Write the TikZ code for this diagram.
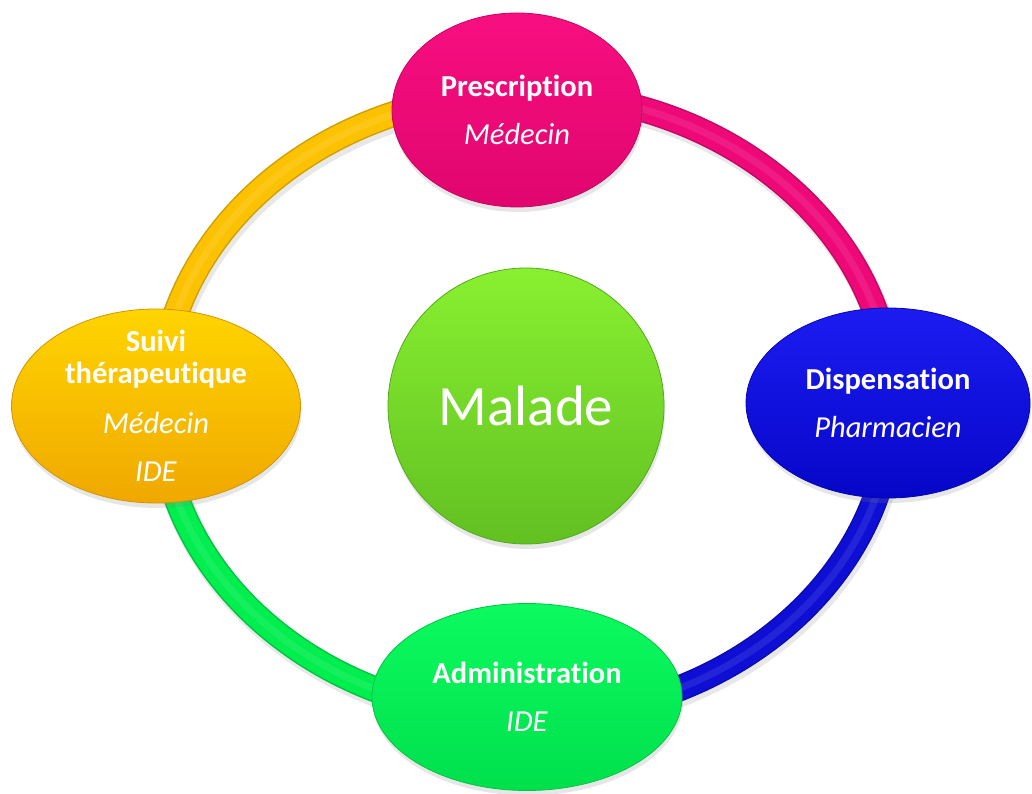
\documentclass[tikz,border=0pt]{standalone}
\usepackage{fontspec}
\setmainfont{Carlito}[Ligatures=NoCommon]
\usepackage{tikz}
\usetikzlibrary{shapes.geometric, shadows}

\definecolor{presctop}{RGB}{248,14,128}
\definecolor{prescbot}{RGB}{224,6,110}
\definecolor{disptop}{RGB}{28,28,242}
\definecolor{dispbot}{RGB}{6,6,200}
\definecolor{admintop}{RGB}{12,250,96}
\definecolor{adminbot}{RGB}{0,224,76}
\definecolor{suivitop}{RGB}{255,212,0}
\definecolor{suivibot}{RGB}{240,168,0}
\definecolor{maltop}{RGB}{136,240,48}
\definecolor{malbot}{RGB}{98,192,34}
\definecolor{pinkring}{RGB}{238,8,120}
\definecolor{bluering}{RGB}{14,14,212}
\definecolor{greenring}{RGB}{0,238,78}
\definecolor{orangering}{RGB}{252,194,0}

\begin{document}
\begin{tikzpicture}[x=1pt, y=1pt,
  bubble/.style 2 args={ellipse, inner sep=0pt, top color=#1, bottom color=#2, draw=#2!88!black, line width=0.8pt,
    drop shadow={opacity=0.2, shadow xshift=1pt, shadow yshift=-5pt}},
  txt/.style={text=white, align=center, font=\fontsize{30.5}{32}\selectfont},
  tube/.style={line width=23pt, draw=#1,
    preaction={draw=black, opacity=0.09, line width=28pt, transform canvas={shift={(2pt,-4pt)}}},
    preaction={draw=#1!82!black, line width=26pt},
    postaction={draw=#1!60!white, opacity=0.22, line width=7pt}}]
  \useasboundingbox (0,0) rectangle (1032,794);
  \coordinate (ring) at (526,389);
  \foreach \ang/\col in {90/pinkring, 0/bluering, -90/greenring, 180/orangering}
    \draw[tube=\col] (ring) ++(\ang:366 and 312) arc[start angle=\ang, delta angle=-90, x radius=366, y radius=312];

  \node[bubble={presctop}{prescbot}, minimum width=250, minimum height=194] at (517,684) (presc) {};
  \node[bubble={disptop}{dispbot}, minimum width=284, minimum height=190] at (888,391) (disp) {};
  \node[bubble={admintop}{adminbot}, minimum width=310, minimum height=187] at (527,97) (admin) {};
  \node[bubble={suivitop}{suivibot}, minimum width=289, minimum height=194] at (156,388) (suivi) {};
  \node[bubble={maltop}{malbot}, circle, minimum size=276, text=white, font=\fontsize{57}{60}\selectfont] at (526,388) (malade) {Malade};

  \node[txt] at (presc) (presc-t) {\textbf{Prescription}\\[16pt]\textit{Médecin}};
  \node[txt] at (disp) (disp-t) {\textbf{Dispensation}\\[16pt]\textit{Pharmacien}};
  \node[txt] at (admin) (admin-t) {\textbf{Administration}\\[16pt]\textit{IDE}};
  \node[txt] at (suivi) (suivi-t) {\textbf{Suivi}\\\textbf{thérapeutique}\\[18pt]\textit{Médecin}\\[16pt]\textit{IDE}};
\end{tikzpicture}
\end{document}
